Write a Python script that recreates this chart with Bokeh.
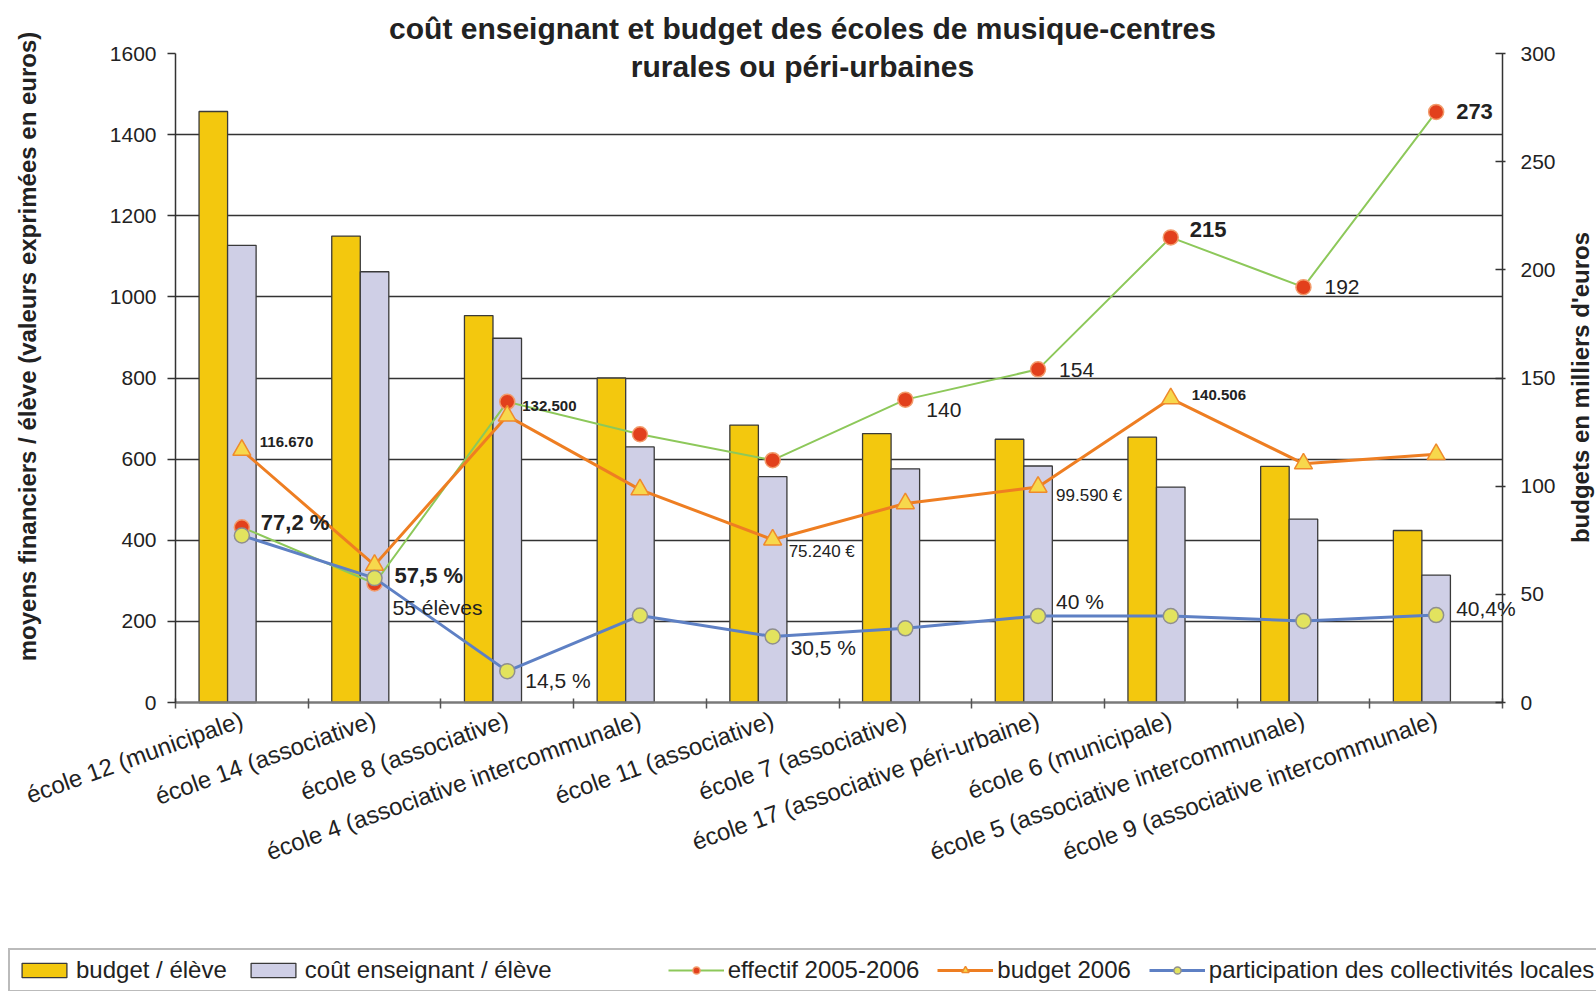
import math
import numpy as np
from bokeh.plotting import figure
from bokeh.models import (Range1d, LinearAxis, FixedTicker, Legend, LegendItem,
                          ColumnDataSource, Label, CustomJSTickFormatter)
from bokeh.transform import dodge
from bokeh.core.properties import value
from bokeh.embed import file_html
from bokeh.resources import INLINE

# ---------------- data ----------------
categories = [
    "école 12 (municipale)",
    "école 14 (associative)",
    "école 8 (associative)",
    "école 4 (associative intercommunale)",
    "école 11 (associative)",
    "école 7 (associative)",
    "école 17 (associative péri-urbaine)",
    "école 6 (municipale)",
    "école 5 (associative intercommunale)",
    "école 9 (associative intercommunale)",
]
budget_eleve = [1457, 1150, 954, 800, 684, 663, 649, 654, 582, 424]
cout_enseignant = [1127, 1062, 898, 630, 557, 576, 583, 531, 452, 314]
effectif = [81, 55, 139, 124, 112, 140, 154, 215, 192, 273]
budget_2006 = [116.67, 63.5, 132.5, 98.4, 75.24, 92, 99.59, 140.506, 110.4, 114.7]
participation = [77.2, 57.5, 14.5, 40.2, 30.5, 34.3, 40.0, 40.0, 37.7, 40.4]

left_ticks = [0, 200, 400, 600, 800, 1000, 1200, 1400, 1600]
right_ticks = [0, 50, 100, 150, 200, 250, 300]

effectif_text = [None, "55 élèves", None, None, None, "140", "154", "215", "192", "273"]
budget_text = ["116.670", None, "132.500", None, "75.240 €", None, "99.590 €", "140.506", None, None]
participation_text = ["77,2 %", "57,5 %", "14,5 %", None, "30,5 %", None, "40 %", None, None, "40,4%"]

title_lines = ["coût enseignant et budget des écoles de musique-centres",
               "rurales ou péri-urbaines"]
left_title = "moyens financiers / élève (valeurs exprimées en euros)"
right_title = "budgets en milliers d'euros"
legend_labels = ["budget / élève", "coût enseignant / élève", "effectif 2005-2006",
                 "budget 2006", "participation des collectivités locales"]

# ---------------- styles / layout ----------------
FONT = "Liberation Sans"
C_YELLOW = "#F3C80E"
C_LAV = "#CFCFE6"
C_BAR_LINE = "#3a3a3a"
C_GREEN = "#8DC85A"
C_RED = "#E2401C"
C_ORANGE = "#EE7E22"
C_TRI = "#F7D84C"
C_BLUE = "#5E80C4"
C_CIRC = "#E2E35E"
C_TEXT = "#222222"

# label style: (series, index) -> (style, dx, dy)
label_style = {
    ("eff", 1): ("reg", 18, 24),
    ("eff", 5): ("reg", 21, 10),
    ("eff", 6): ("reg", 21, 1),
    ("eff", 7): ("bold", 19, -8),
    ("eff", 8): ("reg", 21, 0),
    ("eff", 9): ("bold", 20, 0),
    ("bud", 0): ("small", 18, -8),
    ("bud", 2): ("small", 15, -10),
    ("bud", 4): ("euro", 16, 12),
    ("bud", 6): ("euro", 18, 8),
    ("bud", 7): ("small", 21, -4),
    ("part", 0): ("bold", 19, -13),
    ("part", 1): ("bold", 20, -3),
    ("part", 2): ("reg", 18, 9),
    ("part", 4): ("reg", 18, 11),
    ("part", 6): ("reg", 18, -14),
    ("part", 9): ("reg", 20, -7),
}
font_styles = {
    "reg": ("21px", "normal"),
    "bold": ("22px", "bold"),
    "small": ("15px", "bold"),
    "euro": ("17px", "normal"),
}

n = len(categories)
xc = [float(v) for v in (np.arange(n) + 0.5)]

W, H = 1596, 991
X0_PX, XN_PX = 175.0, 1502.0   # screen x of the left and right axes
Y0_PX, YT_PX = 702.0, 53.0     # screen y of 0 and of the top tick
SX = (XN_PX - X0_PX) / n
SY = (Y0_PX - YT_PX) / left_ticks[-1]
RATIO = right_ticks[-1] / left_ticks[-1]


def px_x(px):
    return (px - X0_PX) / SX


def px_y(py):
    return (Y0_PX - py) / SY


p = figure(width=W, height=H,
           x_range=Range1d(px_x(0), px_x(W)), y_range=Range1d(px_y(H), px_y(0)),
           output_backend="svg", toolbar_location=None,
           min_border=0, min_border_left=0, min_border_right=0,
           min_border_top=0, min_border_bottom=0,
           outline_line_color=None,
           background_fill_color="white", border_fill_color="white")
p.extra_y_ranges = {"right": Range1d(px_y(H) * RATIO, px_y(0) * RATIO)}

src = ColumnDataSource(dict(x=xc, cat=categories, budget=budget_eleve, cout=cout_enseignant,
                            eff=effectif, bud06=budget_2006, part=participation))

# ---------------- axes ----------------
yl = p.yaxis[0]
yl.fixed_location = 0
yl.bounds = (left_ticks[0], left_ticks[-1])
yl.ticker = FixedTicker(ticks=left_ticks)
yl.major_label_text_font = FONT
yl.major_label_text_font_size = "21px"
yl.major_label_text_color = C_TEXT
yl.major_label_standoff = 11
yl.major_tick_in = 0
yl.major_tick_out = 8
yl.major_tick_line_color = "#333333"
yl.major_tick_line_width = 1.5
yl.minor_tick_line_color = None
yl.axis_line_color = "#333333"
yl.axis_line_width = 1.5

yr = LinearAxis(y_range_name="right", bounds=(right_ticks[0], right_ticks[-1]),
                ticker=FixedTicker(ticks=right_ticks), fixed_location=n)
yr.major_label_text_font = FONT
yr.major_label_text_font_size = "21px"
yr.major_label_text_color = C_TEXT
yr.major_label_standoff = 15
yr.major_tick_in = 7
yr.major_tick_out = 3
yr.major_tick_line_color = "#333333"
yr.major_tick_line_width = 1.5
yr.minor_tick_line_color = None
yr.axis_line_color = "#333333"
yr.axis_line_width = 1.5
p.add_layout(yr, "right")

xa = p.xaxis[0]
xa.fixed_location = 0
xa.bounds = (0, n)
xa.ticker = FixedTicker(ticks=xc, minor_ticks=[float(v) for v in range(n + 1)])
xa.formatter = CustomJSTickFormatter(args=dict(labels=categories),
                                     code="return labels[Math.round(tick - 0.5)];")
xa.major_label_orientation = 0.345
xa.major_label_text_font = FONT
xa.major_label_text_font_size = "24px"
xa.major_label_text_color = C_TEXT
xa.major_label_standoff = 10
xa.major_tick_in = 0
xa.major_tick_out = 0
xa.major_tick_line_color = None
xa.minor_tick_in = 4
xa.minor_tick_out = 6
xa.minor_tick_line_color = "#555555"
xa.minor_tick_line_width = 1.5
xa.axis_line_color = "#7a7a7a"
xa.axis_line_width = 2.5

p.xgrid.visible = False
grid_ticks = left_ticks[1:-1]
try:
    p.ygrid.cross_bounds = (0, n)
    p.ygrid.ticker = FixedTicker(ticks=grid_ticks)
    p.ygrid.grid_line_color = "#333333"
    p.ygrid.grid_line_width = 1.5
except AttributeError:
    p.ygrid.visible = False
    p.segment(x0=[0] * len(grid_ticks), x1=[n] * len(grid_ticks), y0=grid_ticks, y1=grid_ticks,
              line_color="#333333", line_width=1.5, level="underlay")

# ---------------- bars ----------------
BW = 0.215
r_bud = p.vbar(x=dodge("x", -BW), top="budget", width=BW, source=src,
               fill_color=C_YELLOW, line_color=C_BAR_LINE, line_width=1.3)
r_cout = p.vbar(x="x", top="cout", width=BW, source=src,
                fill_color=C_LAV, line_color=C_BAR_LINE, line_width=1.3)

# ---------------- lines ----------------
l_eff = p.line("x", "eff", source=src, y_range_name="right", line_color=C_GREEN, line_width=2)
s_eff = p.scatter("x", "eff", source=src, y_range_name="right", marker="circle", size=15,
                  fill_color=C_RED, line_color="#F29B6B", line_width=1.5)
l_b06 = p.line("x", "bud06", source=src, y_range_name="right", line_color=C_ORANGE, line_width=3)
s_b06 = p.scatter("x", "bud06", source=src, y_range_name="right", marker="triangle", size=18,
                  fill_color=C_TRI, line_color="#EF8A2C", line_width=1.5)
l_part = p.line("x", "part", source=src, y_range_name="right", line_color=C_BLUE, line_width=3)
s_part = p.scatter("x", "part", source=src, y_range_name="right", marker="circle", size=15,
                   fill_color=C_CIRC, line_color="#8F8F8F", line_width=1.5)

# ---------------- data labels ----------------
series = {"eff": (effectif, effectif_text), "bud": (budget_2006, budget_text),
          "part": (participation, participation_text)}
groups = {}
for key, (vals, texts) in series.items():
    for i, t in enumerate(texts):
        if not t:
            continue
        st, dx, dy = label_style[(key, i)]
        g = groups.setdefault(st, dict(x=[], y=[], text=[], dx=[], dy=[]))
        g["x"].append(xc[i]); g["y"].append(vals[i]); g["text"].append(t)
        g["dx"].append(dx); g["dy"].append(dy)
for st, g in groups.items():
    size, style = font_styles[st]
    p.text(x=g["x"], y=g["y"], text=g["text"], x_offset=g["dx"], y_offset=g["dy"],
           y_range_name="right", text_font=value(FONT), text_font_size=size,
           text_font_style=style, text_color=C_TEXT,
           text_align="left", text_baseline="middle")

# ---------------- titles ----------------
for line, py in zip(title_lines, [28, 66]):
    p.add_layout(Label(x=px_x(802), y=px_y(py), text=line, text_align="center",
                       text_baseline="middle", text_font=FONT, text_font_size="30px",
                       text_font_style="bold", text_color=C_TEXT))
p.add_layout(Label(x=px_x(27), y=px_y(346), text=left_title, angle=math.pi / 2,
                   text_align="center", text_baseline="middle", text_font=FONT,
                   text_font_size="24px", text_font_style="bold", text_color=C_TEXT))
p.add_layout(Label(x=px_x(1580), y=px_y(387), text=right_title, angle=math.pi / 2,
                   text_align="center", text_baseline="middle", text_font=FONT,
                   text_font_size="24px", text_font_style="bold", text_color=C_TEXT))

# ---------------- legend ----------------
spacer = p.scatter(x=[], y=[], marker="circle", size=1, fill_alpha=0, line_alpha=0)
items = [
    LegendItem(label=legend_labels[0], renderers=[r_bud]),
    LegendItem(label=legend_labels[1], renderers=[r_cout]),
    LegendItem(label=" ", renderers=[spacer]),
    LegendItem(label=legend_labels[2], renderers=[l_eff, s_eff]),
    LegendItem(label=legend_labels[3], renderers=[l_b06, s_b06]),
    LegendItem(label=legend_labels[4], renderers=[l_part, s_part]),
]
legend = Legend(items=items, orientation="horizontal", location=(8, -1),
                label_text_font=FONT, label_text_font_size="24px", label_text_color=C_TEXT,
                glyph_width=56, glyph_height=18, label_standoff=4, spacing=18,
                padding=6, margin=0, border_line_color="#777777", border_line_width=2,
                background_fill_color="white", background_fill_alpha=1)
p.add_layout(legend, "center")

open("out.html", "w").write(file_html(p, INLINE))
